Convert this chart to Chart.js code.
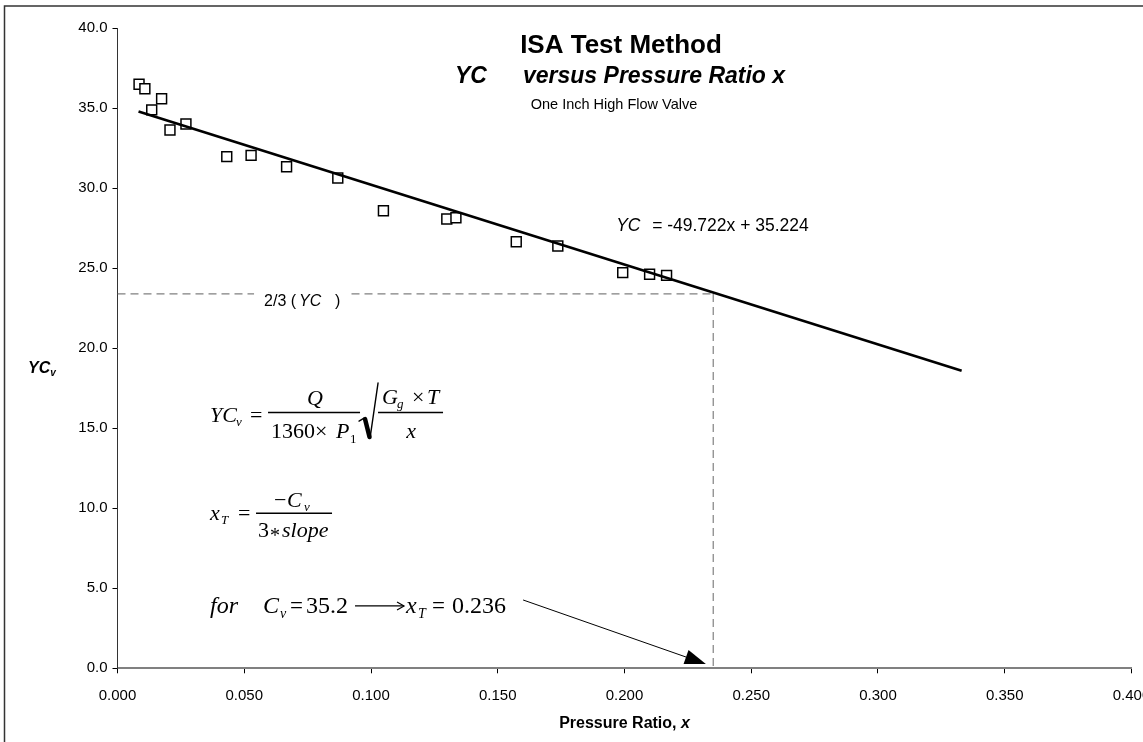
<!DOCTYPE html>
<html>
<head>
<meta charset="utf-8">
<script src="https://cdn.jsdelivr.net/npm/chart.js@4.4.1/dist/chart.umd.min.js"></script>
<style>
  html, body { margin: 0; padding: 0; background: #fff; overflow: hidden; }
  #wrap { width: 1143px; height: 742px; }
</style>
</head>
<body>
<div id="wrap"><canvas id="isaChart" width="1143" height="742"></canvas></div>
<script>
// Measured points (pressure ratio x, Y*Cv)
const pressureRatio = [0.0085, 0.0108, 0.0135, 0.0174, 0.0207, 0.0270, 0.0431, 0.0527, 0.0667,
  0.0869, 0.1049, 0.1299, 0.1335, 0.1573, 0.1737, 0.1993, 0.2099, 0.2166];
const ycv = [36.50, 36.22, 34.90, 35.60, 33.64, 34.02, 31.98, 32.06, 31.35,
  30.64, 28.60, 28.08, 28.16, 26.66, 26.39, 24.73, 24.63, 24.56];

// Linear trend line end points
const trendX = [0.0083, 0.333];
const trendY = [34.8, 18.6];

// 2/3 (YC) guide and the x_T read-off
const twoThirdsY = 23.4;
const xT = 0.235;

// Axis ticks
const xTickValues = [0, 0.05, 0.1, 0.15, 0.2, 0.25, 0.3, 0.35, 0.4];
const yTickValues = [0, 5, 10, 15, 20, 25, 30, 35, 40];

// where the notes sit, in data units
const eqLabelAt = [0.1967, 27.33];
const thirdLabelAt = [0.0728, 23.4];
const formula1At = [0.0365, 15.39];
const formula2At = [0.0365, 9.27];
const formula3At = [0.0365, 3.46];
const arrowFrom = [0.160, 4.27];
const arrowTo = [0.2321, 0.27];

const sans = (st, sz) => `${st} ${sz}px "Liberation Sans", Arial, sans-serif`;
const serif = (st, sz) => `${st} ${sz}px "Liberation Serif", "Times New Roman", serif`;

function put(ctx, s, x, y, font, align) {
  ctx.font = font;
  ctx.textAlign = align || 'left';
  ctx.fillText(s, x, y);
  return ctx.measureText(s).width;
}
function bar(ctx, x1, x2, y, w) {
  ctx.beginPath();
  ctx.lineWidth = w || 1.6;
  ctx.moveTo(x1, y);
  ctx.lineTo(x2, y);
  ctx.stroke();
}

const notes = {
  id: 'notes',
  beforeDraw(chart) {
    const ctx = chart.ctx;
    ctx.save();
    ctx.fillStyle = '#fff';
    ctx.fillRect(0, 0, chart.width, chart.height);
    // outer frame
    ctx.strokeStyle = '#333';
    ctx.lineWidth = 1.5;
    ctx.beginPath();
    ctx.moveTo(4.5, chart.height);
    ctx.lineTo(4.5, 6);
    ctx.lineTo(chart.width, 6);
    ctx.stroke();
    ctx.restore();
  },
  afterDatasetsDraw(chart) {
    const ctx = chart.ctx;
    const xs = chart.scales.x, ys = chart.scales.y;
    const P = (p) => [xs.getPixelForValue(p[0]), ys.getPixelForValue(p[1])];
    ctx.save();
    ctx.fillStyle = '#000';
    ctx.strokeStyle = '#000';
    ctx.textBaseline = 'alphabetic';

    // titles
    const cx = 621;
    put(ctx, 'ISA Test Method', cx, 53, sans('bold', 26), 'center');
    put(ctx, 'YC', 455, 83, sans('italic bold', 23));
    put(ctx, 'versus Pressure Ratio x', 523, 83, sans('italic bold', 23));
    put(ctx, 'One Inch High Flow Valve', 614, 109, sans('normal', 14.5), 'center');

    // axis titles
    ctx.font = sans('bold', 16);
    const w1 = ctx.measureText('Pressure Ratio, ').width;
    ctx.font = sans('italic bold', 16);
    const w2 = ctx.measureText('x').width;
    const tx = (chart.chartArea.left + chart.chartArea.right) / 2 - (w1 + w2) / 2;
    put(ctx, 'Pressure Ratio, ', tx, 728, sans('bold', 16));
    put(ctx, 'x', tx + w1, 728, sans('italic bold', 16));
    const yw = put(ctx, 'YC', 28, 373, sans('italic bold', 16));
    put(ctx, 'v', 28 + yw, 376, sans('italic bold', 10));

    // trend equation
    let [ex, ey] = P(eqLabelAt);
    put(ctx, 'YC', ex, ey, sans('italic', 17.5));
    put(ctx, '= -49.722x + 35.224', ex + 36, ey, sans('normal', 17.5));

    // 2/3 (YC) label over the dashed line
    let [tx3, ty3] = P(thirdLabelAt);
    ctx.fillStyle = '#fff';
    ctx.fillRect(tx3 - 48, ty3 - 4, 96, 8);
    ctx.fillStyle = '#000';
    const tl = tx3 - 38;
    put(ctx, '2/3 (', tl, ty3 + 12, sans('normal', 16));
    put(ctx, 'YC', tl + 35, ty3 + 12, sans('italic', 16));
    put(ctx, ')', tl + 71, ty3 + 12, sans('normal', 16));

    // formula 1: YCv = Q / (1360 x P1) * sqrt(Gg x T / x)
    let [ax, ay] = P(formula1At);
    put(ctx, 'YC', ax, ay, serif('italic', 22));
    put(ctx, 'v', ax + 26, ay + 4, serif('italic', 13));
    put(ctx, '=', ax + 40, ay, serif('normal', 22));
    bar(ctx, ax + 58, ax + 150, ay - 9.5);
    put(ctx, 'Q', ax + 105, ay - 17, serif('italic', 22), 'center');
    put(ctx, '1360\u00d7', ax + 61, ay + 16, serif('normal', 22));
    put(ctx, 'P', ax + 126, ay + 16, serif('italic', 22));
    put(ctx, '1', ax + 140, ay + 21, serif('normal', 13));
    ctx.lineCap = 'round';
    ctx.beginPath(); ctx.lineWidth = 1.4;
    ctx.moveTo(ax + 149, ay - 1); ctx.lineTo(ax + 154, ay - 4); ctx.stroke();
    ctx.beginPath(); ctx.lineWidth = 4.5;
    ctx.moveTo(ax + 155, ay - 3); ctx.lineTo(ax + 159.5, ay + 15); ctx.stroke();
    ctx.beginPath(); ctx.lineWidth = 1.4;
    ctx.moveTo(ax + 160, ay + 16); ctx.lineTo(ax + 168, ay - 39); ctx.stroke();
    ctx.lineCap = 'butt';
    bar(ctx, ax + 168, ax + 233, ay - 9.5);
    put(ctx, 'G', ax + 172, ay - 18, serif('italic', 22));
    put(ctx, 'g', ax + 187, ay - 14, serif('italic', 13));
    put(ctx, '\u00d7', ax + 202, ay - 18, serif('normal', 22));
    put(ctx, 'T', ax + 217, ay - 18, serif('italic', 22));
    put(ctx, 'x', ax + 201, ay + 16, serif('italic', 22), 'center');

    // formula 2: xT = -Cv / (3 * slope)
    [ax, ay] = P(formula2At);
    put(ctx, 'x', ax, ay, serif('italic', 22));
    put(ctx, 'T', ax + 11, ay + 4, serif('italic', 13));
    put(ctx, '=', ax + 28, ay, serif('normal', 22));
    bar(ctx, ax + 46, ax + 122, ay - 6.7);
    put(ctx, '\u2212', ax + 64, ay - 13, serif('normal', 22));
    put(ctx, 'C', ax + 77, ay - 13, serif('italic', 22));
    put(ctx, 'v', ax + 94, ay - 9, serif('italic', 13));
    put(ctx, '3', ax + 48, ay + 17, serif('normal', 22));
    put(ctx, '*', ax + 60, ay + 22, serif('normal', 20));
    put(ctx, 'slope', ax + 72, ay + 17, serif('italic', 22));

    // formula 3: for Cv = 35.2 --> xT = 0.236
    [ax, ay] = P(formula3At);
    put(ctx, 'for', ax, ay, serif('italic', 24));
    put(ctx, 'C', ax + 53, ay, serif('italic', 24));
    put(ctx, 'v', ax + 70, ay + 5, serif('italic', 14));
    put(ctx, '=', ax + 80, ay, serif('normal', 23));
    put(ctx, '35.2', ax + 96, ay, serif('normal', 24));
    bar(ctx, ax + 145, ax + 194, ay - 7, 1.2);
    ctx.beginPath(); ctx.lineWidth = 1.2;
    ctx.moveTo(ax + 187, ay - 11); ctx.lineTo(ax + 194, ay - 7); ctx.lineTo(ax + 187, ay - 3); ctx.stroke();
    put(ctx, 'x', ax + 196, ay, serif('italic', 24));
    put(ctx, 'T', ax + 208, ay + 5, serif('italic', 14));
    put(ctx, '=', ax + 222, ay, serif('normal', 23));
    put(ctx, '0.236', ax + 242, ay, serif('normal', 24));

    // pointer arrow down to x_T
    const [sx, sy] = P(arrowFrom);
    const [hx, hy] = P(arrowTo);
    const ang = Math.atan2(hy - sy, hx - sx);
    const hl = 21, hw = 7.5;
    const bx = hx - hl * Math.cos(ang), by = hy - hl * Math.sin(ang);
    ctx.beginPath(); ctx.lineWidth = 1;
    ctx.moveTo(sx, sy); ctx.lineTo(bx, by); ctx.stroke();
    ctx.beginPath();
    ctx.moveTo(hx, hy);
    ctx.lineTo(bx + hw * Math.sin(ang), by - hw * Math.cos(ang));
    ctx.lineTo(bx - hw * Math.sin(ang), by + hw * Math.cos(ang));
    ctx.closePath();
    ctx.fill();

    ctx.restore();
  }
};

const ctx = document.getElementById('isaChart').getContext('2d');
const isaChart = new Chart(ctx, {
  type: 'scatter',
  data: {
    datasets: [
      {
        label: 'Linear trend',
        type: 'line',
        data: trendX.map((x, i) => ({ x: x, y: trendY[i] })),
        borderColor: '#000',
        borderWidth: 2.6,
        pointRadius: 0,
        fill: false,
        order: 0
      },
      {
        label: 'YCv',
        data: pressureRatio.map((x, i) => ({ x: x, y: ycv[i] })),
        pointStyle: 'rect',
        pointRadius: 7,
        pointBorderWidth: 1.5,
        borderColor: '#000',
        backgroundColor: '#fff',
        order: 1
      },
      {
        label: '2/3 YC',
        type: 'line',
        data: [{ x: 0, y: twoThirdsY }, { x: xT, y: twoThirdsY }],
        borderColor: '#808080',
        borderWidth: 1.2,
        borderDash: [8, 5],
        pointRadius: 0,
        order: 2
      },
      {
        label: 'xT',
        type: 'line',
        data: [{ x: xT, y: twoThirdsY }, { x: xT, y: 0 }],
        borderColor: '#808080',
        borderWidth: 1.2,
        borderDash: [8, 5],
        pointRadius: 0,
        order: 2
      }
    ]
  },
  options: {
    responsive: false,
    animation: false,
    layout: {
      padding: { left: 0, right: 11.5, top: 28.3, bottom: 0 }
    },
    scales: {
      x: {
        type: 'linear',
        min: 0,
        max: 0.4,
        afterBuildTicks: (scale) => { scale.ticks = xTickValues.map(v => ({ value: v })); },
        afterFit: (scale) => { scale.height = 73.7; scale.paddingLeft = 0; scale.paddingRight = 0; },
        ticks: {
          color: '#000',
          padding: 14,
          maxRotation: 0,
          font: { family: '"Liberation Sans", Arial', size: 15 },
          callback: (v) => Number(v).toFixed(3)
        },
        grid: { drawOnChartArea: false, drawTicks: true, tickLength: 5, color: '#000' },
        border: { display: true, color: '#808080', width: 2 }
      },
      y: {
        type: 'linear',
        min: 0,
        max: 40,
        afterBuildTicks: (scale) => { scale.ticks = yTickValues.map(v => ({ value: v })); },
        afterFit: (scale) => { scale.width = 117.5; },
        ticks: {
          color: '#000',
          padding: 5,
          font: { family: '"Liberation Sans", Arial', size: 15 },
          callback: (v) => Number(v).toFixed(1)
        },
        grid: { drawOnChartArea: false, drawTicks: true, tickLength: 5, color: '#000' },
        border: { display: true, color: '#333', width: 1 }
      }
    },
    plugins: {
      legend: { display: false },
      tooltip: { enabled: false }
    }
  },
  plugins: [notes]
});
</script>
</body>
</html>
